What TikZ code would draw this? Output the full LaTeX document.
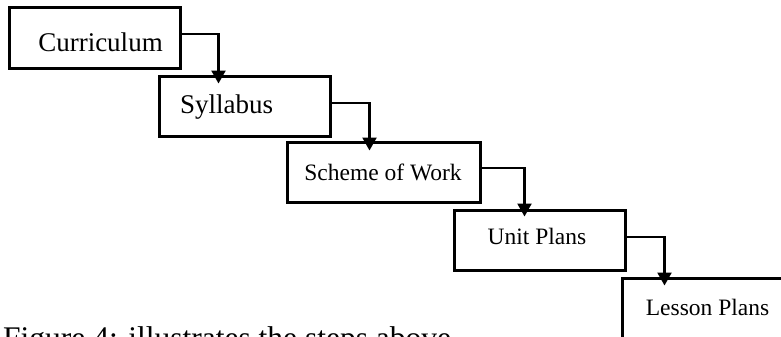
\documentclass[tikz,border=0pt]{standalone}
\usepackage{fontspec}
\setmainfont{Liberation Serif}
\usetikzlibrary{arrows.meta,calc}
\tikzset{
  stepbox/.style={draw=black, line width=3pt, inner sep=0pt, fill=white},
  lbl/.style={inner sep=0pt, anchor=base, text=black},
  conn/.style={draw=black, line width=2.3pt, -{Triangle[width=14pt,length=13pt]}}
}
\begin{document}
\begin{tikzpicture}[x=1pt,y=-1pt]
\clip (0,0) rectangle (781,337);
\fill[white] (0,0) rectangle (781,337);
% boxes
\node[stepbox, minimum width=171pt, minimum height=60pt] (b1) at (94.5,38) {};
\node[stepbox, minimum width=171pt, minimum height=60pt] (b2) at (244.5,106) {};
\node[stepbox, minimum width=193pt, minimum height=60pt] (b3) at (383.5,172) {};
\node[stepbox, minimum width=171pt, minimum height=60pt] (b4) at (539.5,240) {};
\node[stepbox, minimum width=171pt, minimum height=62pt] (b5) at (707.5,309) {};
% texts
\node[lbl, font=\fontsize{27}{30}\selectfont] (t1) at ($(b1.center)+(6,14)$) {Curriculum};
\node[lbl, font=\fontsize{27}{30}\selectfont] (t2) at ($(b2.center)+(-17.8,7.3)$) {Syllabus};
\node[lbl, font=\fontsize{23.5}{26}\selectfont] (t3) at ($(b3.center)+(-0.5,8.7)$) {Scheme of Work};
\node[lbl, font=\fontsize{23.5}{26}\selectfont] (t4) at ($(b4.center)+(-2.5,4)$) {Unit Plans};
\node[lbl, font=\fontsize{23.5}{26}\selectfont] (t5) at ($(b5.center)+(0,6)$) {Lesson Plans};
% connectors
\draw[conn] ($(b1.east)+(0,-4)$) -| ($(b2.north west)+(61,9)$);
\draw[conn] ($(b2.east)+(0,-3)$) -| ($(b3.north west)+(84,10)$);
\draw[conn] ($(b3.east)+(0,-4)$) -| ($(b4.north west)+(72,8)$);
\draw[conn] ($(b4.east)+(0,-3)$) -| ($(b5.north west)+(44,9)$);
% caption
\node[lbl, anchor=base west, font=\fontsize{31.5}{34}\selectfont] (cap) at (3,348) {Figure 4: illustrates the steps above};
\end{tikzpicture}
\end{document}
